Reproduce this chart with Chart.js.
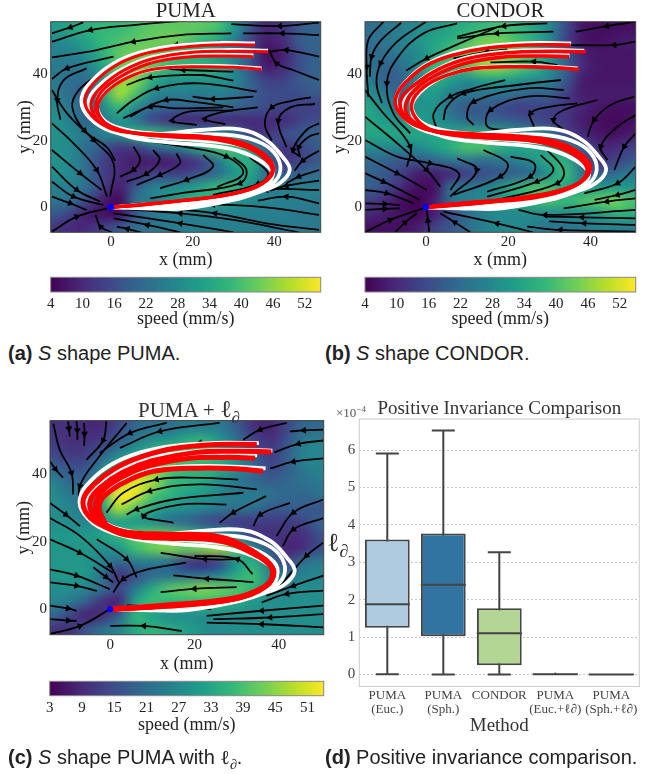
<!DOCTYPE html>
<html>
<head>
<meta charset="utf-8">
<script src="https://cdn.jsdelivr.net/npm/chart.js@4"></script>
<style>
  html, body { margin: 0; padding: 0; background: #fff; }
  #page { position: relative; width: 665px; height: 774px; overflow: hidden; }
  canvas { position: absolute; }
  .txt { position: absolute; white-space: nowrap; font-family: "Liberation Serif", serif; color: #222; }
  .cap { font: 20px/22px "Liberation Sans", sans-serif; color: #222; }
  .cap sub, .ttl sub, .lab sub { font-size: 70%; line-height: 0; }
</style>
</head>
<body>
<div id="page">
  <canvas id="fieldA"></canvas><canvas id="fieldB"></canvas><canvas id="fieldC"></canvas>
  <canvas id="barA"></canvas><canvas id="barB"></canvas><canvas id="barC"></canvas>
  <canvas id="boxes"></canvas>
  <div class="txt ttl" style="left:138px;top:397px;font-size:21px;line-height:24px;color:#333">PUMA + <span style="font-size:24px">ℓ<sub>∂</sub></span></div>
  <div class="txt lab" style="left:327px;top:528px;font-size:26px;line-height:30px;color:#333">ℓ<sub>∂</sub></div>
  <div class="txt" style="left:336px;top:405px;font-size:13px;line-height:16px;color:#555">×10<sup style="font-size:9px;line-height:0">−4</sup></div>
  <div class="txt cap" style="left:8px;top:342px"><b>(a)</b> <i>S</i> shape PUMA.</div>
  <div class="txt cap" style="left:325px;top:342px"><b>(b)</b> <i>S</i> shape CONDOR.</div>
  <div class="txt cap" style="left:8px;top:746px"><b>(c)</b> <i>S</i> shape PUMA with <span style="font-family:'Liberation Serif',serif">ℓ<sub>∂</sub></span>.</div>
  <div class="txt cap" style="left:325px;top:746px"><b>(d)</b> Positive invariance comparison.</div>
</div>
<script>
// tick labels
const fieldTicksX = [0, 20, 40];
const fieldTicksY = [0, 20, 40];
const barTicksAB = [4, 10, 16, 22, 28, 34, 40, 46, 52];
const barTicksC = [3, 9, 15, 21, 27, 33, 39, 45, 51];
const boxTicks = [0, 1, 2, 3, 4, 5, 6];

// speed fields in mm/s, rows y = 54 .. -6 (step 4), cols x = -14 .. 50 (step 4)
const speedA = [
  [32,34,36,38,38,40,42,42,42,42,40,32,18,9,12,18,20],
  [28,30,34,38,40,42,43,44,42,38,34,26,15,8,10,18,20],
  [26,26,30,36,42,44,44,40,36,34,30,26,18,6,8,16,20],
  [25,24,26,34,42,44,42,38,38,38,36,28,18,8,10,16,20],
  [25,22,22,30,46,46,36,30,30,30,30,28,20,14,14,18,20],
  [26,22,20,32,48,40,28,26,26,24,26,24,20,16,16,16,18],
  [28,24,20,28,38,28,22,20,20,20,22,20,18,16,14,14,14],
  [30,26,20,24,30,24,16,12,10,10,10,10,10,10,10,14,16],
  [30,28,24,26,30,36,38,36,34,28,26,24,14,12,16,18,20],
  [30,28,22,18,12,14,20,24,28,36,40,40,30,20,12,14,18],
  [30,28,22,14,10,8,8,8,10,14,24,34,36,24,12,14,18],
  [30,28,22,14,10,10,14,14,14,18,22,30,34,22,18,20,22],
  [26,26,22,14,8,18,26,28,30,34,38,38,30,26,26,26,26],
  [24,22,16,8,5,22,26,30,34,36,34,32,28,27,26,26,25],
  [18,14,8,6,6,18,24,26,26,26,26,26,26,26,26,25,25],
  [12,10,10,14,18,22,24,25,26,26,26,26,26,25,25,25,24]
];
const speedB = [
  [22,24,26,28,30,34,36,38,40,38,34,28,16,7,6,6,6],
  [22,24,26,30,34,36,40,44,44,40,36,28,14,7,6,7,8],
  [22,22,26,28,34,40,44,46,46,44,38,30,20,9,7,7,7],
  [24,20,22,28,38,38,40,46,46,42,38,30,20,10,7,7,7],
  [26,20,20,28,36,32,28,32,32,30,28,26,18,8,7,7,7],
  [30,24,20,30,32,26,24,24,24,22,20,20,14,8,8,8,8],
  [34,28,26,30,30,22,18,18,16,14,14,14,12,9,7,6,6],
  [34,32,30,32,30,26,22,20,20,18,16,14,12,8,6,5,6],
  [34,34,34,34,34,34,36,36,34,32,28,24,14,10,7,6,8],
  [28,28,28,28,32,36,40,40,36,34,34,30,28,18,10,10,14],
  [22,20,18,18,20,24,24,22,24,26,30,36,36,22,12,14,18],
  [20,18,14,8,8,10,14,16,18,20,22,30,38,24,18,22,26],
  [20,16,10,6,6,22,24,26,30,36,40,40,34,30,32,32,30],
  [14,10,6,4,8,22,26,28,30,34,38,40,38,40,42,44,40],
  [10,8,6,5,8,16,22,26,28,28,28,28,28,30,32,36,36],
  [6,6,6,8,14,18,22,26,28,28,26,24,24,24,26,26,26]
];
const speedC = [
  [10,10,9,9,14,20,22,22,24,24,24,18,10,8,14,20,20],
  [12,10,10,12,18,24,28,30,34,36,30,22,14,10,16,24,26],
  [14,12,12,18,26,32,38,42,40,38,34,28,18,12,18,26,26],
  [20,16,16,26,36,42,44,40,36,36,34,28,20,14,18,24,26],
  [26,20,20,30,44,52,48,38,36,34,28,24,20,18,20,22,24],
  [28,24,22,36,54,52,40,36,32,30,26,24,24,22,20,20,22],
  [28,26,24,30,48,40,34,30,28,26,24,22,22,18,18,18,16],
  [28,28,26,30,32,30,28,22,20,16,14,12,12,12,12,14,20],
  [30,30,30,32,36,40,42,42,38,34,30,22,12,10,10,10,16],
  [30,30,30,28,30,38,42,44,42,44,46,40,28,16,8,10,16],
  [30,30,30,26,20,24,24,22,12,10,14,30,34,22,14,22,24],
  [30,30,30,22,10,16,20,22,22,22,26,34,38,26,22,26,26],
  [28,28,26,22,14,24,34,40,42,44,42,40,36,28,26,28,28],
  [26,24,18,10,8,32,38,36,36,36,36,34,30,28,28,28,28],
  [20,14,8,10,18,36,32,28,28,28,28,28,28,28,28,28,28],
  [10,10,16,22,26,34,36,34,32,28,28,28,28,28,28,28,28]
];

// demonstrations, same for all three panels (x,y pairs in mm)
const demos = [
  [35.3,49.2,25,49.3,15,48.4,7,46.4,0.4,43,-4.5,38.2,-7.2,33,-6.2,28.2,-1.5,23.6,6,21.4,14,22.2,22,23.2,31.6,23.4,38,20.2,42,15.2,43.8,11.2,41.3,7.2,36.5,4.7,30,2.2,18.5,-0.3,11,-0.4,0,0],
  [38.5,47,30,47.2,20,46.8,10,45,3,41.6,-2.5,37,-5.5,32,-4.5,27.5,-1,24,5,21,14,19.5,24,18.5,31,17,36.5,14,39.5,10.5,38.7,7.5,34,4.6,26,2.4,15,1,6,0.4,0,0],
  [34.9,45.6,28,45.8,18,45.6,9,43.4,2.5,40,-2.2,35,-3.5,30.5,-1.6,26,3,23.5,10,22.2,20,21.8,30,21.6,37,19.2,40.8,15,41.3,10,38.5,6.2,32,3,22,1,10,0.3,0,0],
  [36.9,41.7,26,42.4,16,42.2,8,40.8,2,37.8,-2.5,33,-3.4,28.6,-1,24.4,4,22.6,12,21,22,20,32,18.5,38,15,39.8,11,37.5,7,31,3.6,20,1.6,8,0.8,0,0]
];

// reproductions per panel
const redA = [
  [35.3,48.7,25,48.7,15.3,47.7,7.1,45.7,0.6,42.2,-4.3,37.2,-6.4,32.7,-5.5,28.7,-1.9,24.7,3.8,22.7,12,21.8,22,21.4,31,19.7,37,16.2,39.6,12.2,38.6,9,35.5,6,28,3.6,18.5,2.2,7,0.8,0,0],
  [38.5,46.7,30,46.8,20,46.5,10,44.5,3,41,-2,36.5,-4.8,32,-4.2,27.8,-0.8,24,5,22.3,14,21.3,24,20.8,33,18.7,38,15,39.8,11.5,38.4,8.2,34,5.3,26,3.2,15,1.6,6,0.5,0,0],
  [34.9,45.2,28,45.4,18,45,9,43,2,39,-2.5,34.5,-3.8,30,-2.5,26.5,1,23.8,7,22,16,21,26,20.2,34,17.5,38.5,13.5,39.4,10,37,7.2,30,4.2,20,2.4,9,1,0,0],
  [36.9,41.4,30,42,21.8,42.2,12,41.7,5.5,39.7,-0.2,35.7,-3.1,31.2,-2.7,27.2,0.6,23.7,7.1,22.2,15.3,21.7,23.4,21.2,31.6,19.7,37.3,16.2,39.8,12.2,38.9,9.2,35.7,6.2,28.3,3.7,18.5,2.2,7.1,0.7,0,0]
];
const redB = [
  [35.2,48.7,25,48.7,15,47.8,7,45.8,0.2,42.6,-4.5,38,-7.3,33,-6.8,29,-3.5,25.2,2,23,12,22,22,21.4,31,20,37,16.6,39.9,12.6,38.8,8.8,34.5,5.8,27,3.6,17,2,7,1,0,0],
  [38.9,46.7,30,46.8,20,46.4,10,44.6,3,41.4,-2.5,37,-6,32.5,-5.6,28.2,-2,24.4,4,22.4,14,21.4,24,20.8,33,18.6,38,15,39.6,11,37.8,7.8,33,5,25,3,15,1.6,6,0.6,0,0],
  [34.8,45.2,28,45.4,18,45,9,43,2,39.4,-2.8,35,-5,30.5,-3.8,26.6,0,23.6,6,21.8,16,20.8,26,20,34,17.2,38.6,13.4,39.2,9.8,36.6,6.8,30,4.2,20,2.4,9,1.2,0,0],
  [37.2,41.4,30,42,22,42.2,12,41.7,5,39.6,-0.6,36,-3.4,31.4,-2.6,27,1,23.4,8,21.6,16,20.8,24,20.2,32,18.4,37,15,39.2,11.4,37.6,7.6,33,4.8,26,2.8,16,1.6,7,0.6,0,0]
];
const redC = [
  [34.8,48.8,25,48.8,15,47.6,7,45,1,41.6,-3.8,37,-6.4,32.5,-5.4,28,-1.6,24.6,4,22.8,13.4,22.2,25.3,21.6,33,17.8,38,13,38.7,9.8,36.6,6.6,29.2,3.2,13.4,1.2,0,0],
  [38.3,46.6,30,46.8,20,46.4,10,44,3,40.6,-2,36.4,-4.8,32,-4,27.8,-0.6,24,5,22.4,14,21.6,25,21,33.4,17.4,38.2,12.6,38.6,9.4,36.4,6.4,29,3,13,1,0,0],
  [34.4,44.8,28,45,18,44.6,9,42.4,2.6,39,-2,34.8,-3.6,30.4,-2.4,26.6,1,23.8,7,22,14,21.2,25.3,20.6,34,16.4,38.7,11.8,38.2,8.6,35.8,6,29,2.8,13.4,0.8,0,0],
  [36.3,40.9,30,41.6,21,41.8,11,41,5,38.6,0,35,-2.5,31.5,-2,27.4,0.7,23.2,7,21.4,13.4,21,25,20.4,34,16.7,38.4,12.2,37.1,6.9,29.2,3,13.4,1,0,0]
];

// streamlines, x,y pairs in mm, listed in flow direction
const streamsA = [
  [-6.8,55.5,-10,54,-14.5,52.2],
  [18,56,5.5,54.7,-5,53.2,-14.5,49.7],
  [29.5,52.2,16.9,51.7,5.5,49.7,-3.5,47.2,-14.5,45],
  [0.6,45.2,-10.8,41.7,-14.5,38.5],
  [26.7,49.7,16,48.7,6,46],
  [51,55.4,41.4,54.4,29.5,55],
  [51,51.7,42,52.2,32.4,52.2],
  [51,45.2,43,47.2,39,46.7],
  [51,38.2,44.6,41.2,40.6,43.2,38.7,47.2],
  [30,40.7,17.7,41.2,12.8,41.7],
  [-6,41.7,-11.6,38.2,-13.2,32.2,-12.4,26.2],
  [-3,40,-8,35,-9.5,30,-6.5,23,-1,18,1,14],
  [30,38,21.8,39.7,9.6,39,3.8,36.7],
  [35.7,34.7,21.8,37.2,11.2,35.7,5.5,32.2,1.4,28.2],
  [34.9,33.2,25,32.5,20,33.2],
  [30,30,20,31.7,13.5,32.2,7,29,3,26.7],
  [27.5,30,15.3,29.7,9.6,30.2,4.7,27.2],
  [30,29,19,28.7,15,26,21,24.7],
  [36,30,27,28.5,23,26.5,28,25],
  [49,33,44.5,32,39.4,30,37.7,25,39.4,20],
  [50,31,44,30,41,26,43,18],
  [51,25.2,47.9,23.2,44.6,17.2,46.3,15.2],
  [51,22.2,48.5,21.2,46,18,46.4,15],
  [51,17,47,14,45,11],
  [9.6,19.7,17.7,18.2,28.3,15.2,32.4,10.2,26,6],
  [5.5,18.2,7.1,14.2,5.5,11.2,2.2,9.2],
  [10.3,17.2,11.9,14.2,8.6,10,3.8,7.7],
  [16,16.2,16.9,13.2,12,9.7,6.3,6.7],
  [22.6,15.7,25,12.2,18.5,8.2,12,5.7],
  [30,15,33.2,11.2,31.6,7.2,16.9,4.2,9.6,2.7],
  [34,15,38.5,10.2,36,7,25,3.7],
  [-14.5,35.2,-10.8,28.2,-4.3,20.2,0.6,13.2,-0.2,3.2],
  [-14.5,25.2,-9.2,19.2,-3.5,11.2,-1,3.2],
  [-14.5,17.2,-7.6,10.2,-2.3,5.2],
  [-14.5,12.2,-8.4,5.2,-2.7,1.7],
  [-14.5,7.7,-9.2,3.2,-1.9,0.7],
  [-14.5,3.2,-10,1.2,-6,-0.8],
  [-14.5,-7.3,-8.4,-2.8,-1,-0.3],
  [0.2,-7.5,-2.6,-5.8,-3.8,-2.3],
  [51,-2.3,38,0,25,0.8,13,-0.3],
  [51,5.2,38,5.2,30,2],
  [51,1.2,43,3.2,36,2],
  [51,-6.8,38,-4.8,25.5,-1.8,12.6,-0.3],
  [46,-7.5,30,-3.8,17,-1.8,0.6,-0.3],
  [30,-7.5,17,-4.8,0.6,-1.8],
  [17,-7.5,8.9,-5.3,0.6,-3.3],
  [7.3,-7.5,4,-6.5,1.4,-5.8],
  [51,11.2,46,9.2,43,7.2],
  [51,8,43,6.5,39,5]
];
const streamsB = [
  [-10.3,55.7,-14,50.2,-14.4,42.2,-14,33.2],
  [-6,55.4,-11,50,-13.2,45.2,-13.6,39.2],
  [0,55.7,-7,49.7,-11,43.2,-12,37.2,-10.7,31.2],
  [7.6,55.2,-0.6,52.2,-7,44.7,-9.5,37.2,-7.9,28.2,-3.8,22.2],
  [18,54.4,9.2,49.7,0.2,44.7,-4.8,41],
  [29.5,55.2,19,54.4,7.6,51.2],
  [31,52.7,17.3,52.2,7.6,50.7],
  [51,55.7,44,54.4,36.4,52.7],
  [51,49.7,45.8,48.7,35.2,48.7],
  [19.8,47.4,14.9,46.7,6.7,44.7],
  [32,42.7,26.3,43.7,15.7,43.5],
  [19.3,38.2,11.6,35.7,5.9,33.2,1.9,28.2,2.7,23.2],
  [32.8,38.2,22.2,36.7,9.2,34.2,5.1,30.2,4.3,26.2],
  [33.5,35.2,24.6,35.7,11.6,31.7,10,27.2,11.6,24.7],
  [35,32.7,24.6,33.2,15.7,29.2,15,24.2,20.6,23.2],
  [36.8,31.2,30.3,30.2,25.4,28.2,26.3,24.2],
  [41.7,32.2,33.5,29.2,31,26.2,33.5,23.2],
  [50.6,33.2,44.9,30.7,40.9,26.2,39.3,21.2],
  [51,27.7,46.6,24.2,42.5,18.2,44.1,14.2],
  [51,22.2,48.2,18.2,45.8,11.2],
  [-14.8,27.2,-7.9,20.2,0.2,11.2,3.5,6.2],
  [-14.8,35.2,-11,29.2,-3.8,18.2,-4.6,12.2],
  [-14.8,20.2,-7,15.2,1,13.2,8,10.2,6,5.2],
  [-14.8,15.2,-7,10.2,0.2,5.2],
  [-14.8,10.2,-10.3,7.7,-1.4,2.2],
  [-14.8,5.2,-9.5,4.2,-3,1.2],
  [-14.8,1.2,-10,1,-6.3,0.7],
  [-14.8,-0.8,-10,-0.5,-6.3,-0.3],
  [-14.8,-7.5,-8.7,-3.8,-0.6,-0.3],
  [-7.5,-7.5,-5,-4.5,-2.2,-1.8],
  [0.8,-7.5,0.5,-4,0.2,-0.8],
  [10.8,-7.5,7,-4.5,3.5,-1.8],
  [26,-7.5,17.3,-4.8,4.3,-1.3],
  [51,-0.8,29,-2.3,22.5,-0.8],
  [51,-3.3,38,-3,29,-2.8],
  [51,-5.3,38.5,-4.8,30,-4.2],
  [51,-7.3,32.7,-6.8,24.6,-5.8],
  [51,12.2,46.6,7.2,38.5,4.2],
  [51,5.2,46.6,3.7,41,2.2],
  [51,2.7,44,1.7,33.5,-0.3],
  [7.6,14.7,12.4,11.2,5.9,3.2],
  [14,17.2,19.8,13.2,18.1,9.2,6.7,3.7],
  [20.6,15.2,26.3,13.2,25.4,9.2,14.9,4.7],
  [27.9,15.7,31,11.2,27,7.7,14.9,3.2],
  [29.5,17.2,33.5,11.2,32,7.2,17.3,2.2]
];
const streamsC = [
  [-10,55.7,-9.8,53.5,-9.6,51.2],
  [-8,55.7,-7.8,53,-7.8,50.2],
  [-6.2,55.2,-6.1,52,-6.2,48.4],
  [-13.5,55,-12,47.3,-9.2,40.4,-8.8,34],
  [-14.3,43.8,-13,41.5,-11.2,39],
  [3.9,55.2,-3.2,44.3,-7.2,36.5,-7.2,29.6],
  [-0.9,55.7,-1.7,50,-5.6,44.3],
  [13.4,55.2,4.7,52.2,-2.5,46.3],
  [26,55.2,11.8,52.7,2.3,47.8],
  [27.6,49.3,21.3,49.3,11.8,47.3],
  [50.6,53.2,46,53,42.7,52.7],
  [41.9,55.2,35.6,53.2,31.6,50.2],
  [50.6,50,44.7,49,39,46.5],
  [50.6,44.7,43.5,43.7,38,41.7],
  [30.4,38.4,18.9,39,11,38.4,3.1,34.5,-0.9,28.6],
  [34.8,35.5,21.3,37,9.4,35,2.7,31],
  [31.6,34.5,15,32.5,6.3,29.6,3.9,28],
  [27.6,31,16.6,31,7.9,27.6,15,25.6],
  [37,33.5,29.2,28.6,26,25.6],
  [42.7,31.5,35.6,28,34,24.6],
  [50.6,32.5,43.5,28.6,39.5,21.7],
  [50.6,27,43.5,23.6,41,18.7],
  [50.6,19.7,46.6,15.8,40.3,6.9],
  [50.6,9.9,43.5,6.9,37.1,3.9],
  [-14.3,31.5,-10.5,28,-7.2,24.6],
  [-14.3,27,-7.2,21.7,0,12.8,2,8],
  [-14.3,20.7,-7.2,16.7,0.7,10.8],
  [-14.3,11.8,-8,9.9,-0.1,5.9],
  [-14.3,7.9,-8,6.9,-3.2,5.4],
  [-14.3,1,-10,0.2,-8,-0.5],
  [-14.3,-3,-10,-3.4,-8,-3.5],
  [-14.3,-7.4,-7.2,-5,0,0],
  [-3.2,20.7,3.9,14.8,6.3,9.4],
  [-4,12.4,-1,9.5,0.7,7.9],
  [18,13.8,8,11.5,3.1,8.9,0.7,4.9],
  [30.8,14.8,22.5,14.8,12,16.7],
  [33.8,10.4,30.2,14.8,20,15.8],
  [34,8,23,9,15,10],
  [30,6.5,20,6,12,5],
  [50.6,1,36,-0.5,22.9,-2],
  [50.6,-1.5,38,-2.5,24.5,-3],
  [50.6,-5.4,36,-4.5,22.9,-4],
  [17,-6.5,8,-5,0,-5],
  [50.6,5.5,42,4.5,36,2],
  [24,0,14,0.5,4,1.2]
];

// boxplot
const boxCats = [['PUMA','(Euc.)'],['PUMA','(Sph.)'],['CONDOR'],['PUMA','(Euc.+ℓ∂)'],['PUMA','(Sph.+ℓ∂)']];
const boxLow = [0.01, 0, 0, 0, 0];
const boxQ1 = [1.25, 1.02, 0.25, 0, 0];
const boxMed = [1.88, 2.40, 1.10, 0.01, 0];
const boxQ3 = [3.61, 3.77, 1.77, 0.03, 0.01];
const boxHigh = [5.91, 6.52, 3.27, 0.05, 0.01];
const boxColors = ['#afcbdf', '#3274a1', '#b3d593', '#e0a0a0', '#c04040'];

const viridis = ['#440154','#482878','#3e4989','#31688e','#26828e','#1f9e89','#35b779','#6ece58','#b5de2b','#fde725'];
const serif = '"Liberation Serif", serif';
const inkDark = '#000';

function hexRgb(h) { return [1, 3, 5].map(i => parseInt(h.substr(i, 2), 16)); }
function viridisAt(t) {
  t = Math.max(0, Math.min(1, t)) * (viridis.length - 1);
  const i = Math.min(Math.floor(t), viridis.length - 2);
  const a = hexRgb(viridis[i]), b = hexRgb(viridis[i + 1]);
  return a.map((v, k) => Math.round(v + (b[k] - v) * (t - i)));
}
function pairs(flat) {
  const out = [];
  for (let i = 0; i < flat.length; i += 2) out.push({ x: flat[i], y: flat[i + 1] });
  return out;
}
function setup(id, c) {
  const el = document.getElementById(id);
  el.width = c.w; el.height = c.h;
  el.style.left = c.l + 'px'; el.style.top = c.t + 'px';
  return el;
}

// smooth speed image under the lines, placed with the chart scales
const heatmap = {
  id: 'heatmap',
  beforeDatasetsDraw(chart, args, opts) {
    if (!opts.grid) return;
    const rows = opts.grid.length, cols = opts.grid[0].length;
    const off = document.createElement('canvas');
    off.width = cols; off.height = rows;
    const octx = off.getContext('2d');
    const img = octx.createImageData(cols, rows);
    opts.grid.forEach((row, j) => row.forEach((v, i) => {
      const c = viridisAt((v - opts.vmin) / (opts.vmax - opts.vmin));
      const p = (j * cols + i) * 4;
      img.data[p] = c[0]; img.data[p + 1] = c[1]; img.data[p + 2] = c[2]; img.data[p + 3] = 255;
    }));
    octx.putImageData(img, 0, 0);
    const { x, y } = chart.scales, a = chart.chartArea, ctx = chart.ctx;
    const x0 = x.getPixelForValue(-16), x1 = x.getPixelForValue(52);
    const y0 = y.getPixelForValue(56), y1 = y.getPixelForValue(-8);
    ctx.save();
    ctx.beginPath(); ctx.rect(a.left, a.top, a.right - a.left, a.bottom - a.top); ctx.clip();
    ctx.imageSmoothingEnabled = true; ctx.imageSmoothingQuality = 'high';
    ctx.drawImage(off, x0, y0, x1 - x0, y1 - y0);
    ctx.restore();
  }
};
const frame = {
  id: 'frame',
  afterDraw(chart, args, opts) {
    const a = chart.chartArea, ctx = chart.ctx;
    ctx.save();
    ctx.strokeStyle = opts.color || '#444'; ctx.lineWidth = opts.width || 1;
    ctx.strokeRect(a.left, a.top, a.right - a.left, a.bottom - a.top);
    ctx.restore();
  }
};

function fieldChart(id, c, plot, xr, yr, grid, range, streams, reds, redWidth, title) {
  const el = setup(id, c);
  const sets = [];
  sets.push({ data: [{ x: 0, y: 0 }], showLine: false, pointRadius: 3.2, pointBackgroundColor: '#0000ff', pointBorderWidth: 0, order: 0 });
  reds.forEach(r => sets.push({ data: pairs(r), showLine: true, borderColor: '#ff0000', borderWidth: redWidth, tension: 0.4, pointRadius: 0, order: 1 }));
  demos.forEach(d => sets.push({ data: pairs(d), showLine: true, borderColor: '#ffffff', borderWidth: 3.8, tension: 0.4, pointRadius: 0, order: 2 }));
  streams.forEach(s => {
    const pts = pairs(s), mid = Math.floor(pts.length / 2);
    sets.push({
      data: pts, showLine: true, borderColor: inkDark, borderWidth: 1.8, tension: 0.4, order: 3,
      pointStyle: 'triangle', pointBackgroundColor: inkDark, pointBorderWidth: 0,
      pointRadius: ctx => ctx.dataIndex === mid ? 4 : 0,
      pointRotation: ctx => {
        const { x, y } = ctx.chart.scales;
        const a = pts[Math.max(mid - 1, 0)], b = pts[Math.min(mid + 1, pts.length - 1)];
        const dx = x.getPixelForValue(b.x) - x.getPixelForValue(a.x);
        const dy = y.getPixelForValue(b.y) - y.getPixelForValue(a.y);
        return Math.atan2(dx, -dy) * 180 / Math.PI;
      }
    });
  });
  new Chart(el, {
    type: 'scatter',
    data: { datasets: sets },
    plugins: [heatmap, frame],
    options: {
      responsive: false, animation: false, events: [],
      layout: { padding: { top: title ? plot.t - c.t - 20.8 : plot.t - c.t, right: c.l + c.w - plot.r, left: 0, bottom: 0 } },
      plugins: {
        legend: { display: false }, tooltip: { enabled: false },
        title: { display: !!title, text: title, fullSize: false, color: '#222', font: { family: serif, size: 20.8, lineHeight: 1, weight: 'normal' }, padding: 0 },
        heatmap: { grid, vmin: range[0], vmax: range[1] },
        frame: { color: '#444' }
      },
      scales: {
        x: {
          type: 'linear', min: xr[0], max: xr[1],
          grid: { display: false, drawTicks: false }, border: { display: false },
          afterBuildTicks: s => { s.ticks = fieldTicksX.map(v => ({ value: v })); },
          afterFit: s => { s.height = c.t + c.h - plot.b; },
          ticks: { color: '#222', font: { family: serif, size: 15 }, maxRotation: 0, padding: 1 },
          title: { display: true, text: 'x (mm)', color: '#222', font: { family: serif, size: 18 }, padding: 0 }
        },
        y: {
          type: 'linear', min: yr[0], max: yr[1],
          grid: { display: false, drawTicks: false }, border: { display: false },
          afterBuildTicks: s => { s.ticks = fieldTicksY.map(v => ({ value: v })); },
          afterFit: s => { s.width = plot.l - c.l; },
          ticks: { color: '#222', font: { family: serif, size: 15 }, padding: 3 },
          title: { display: true, text: 'y (mm)', color: '#222', font: { family: serif, size: 18 }, padding: 0 }
        }
      }
    }
  });
}

function barChart(id, c, plot, range, ticks) {
  const el = setup(id, c);
  new Chart(el, {
    type: 'bar',
    data: {
      labels: ['speed'],
      datasets: [{
        data: [range], barPercentage: 1, categoryPercentage: 1, borderWidth: 0,
        backgroundColor: ctx => {
          const a = ctx.chart.chartArea;
          if (!a) return '#000';
          const g = ctx.chart.ctx.createLinearGradient(a.left, 0, a.right, 0);
          viridis.forEach((col, i) => g.addColorStop(i / (viridis.length - 1), col));
          return g;
        }
      }]
    },
    plugins: [frame],
    options: {
      indexAxis: 'y', responsive: false, animation: false, events: [],
      layout: { padding: { top: plot.t - c.t, left: plot.l - c.l, right: c.l + c.w - plot.r, bottom: 0 } },
      plugins: { legend: { display: false }, tooltip: { enabled: false }, frame: { color: '#888' } },
      scales: {
        y: { display: false, grid: { display: false } },
        x: {
          type: 'linear', min: range[0], max: range[1],
          grid: { display: false, drawOnChartArea: false, drawTicks: true, tickLength: 2, tickColor: '#333' }, border: { display: false },
          afterBuildTicks: s => { s.ticks = ticks.map(v => ({ value: v })); },
          afterFit: s => { s.height = c.t + c.h - plot.b; },
          ticks: { color: '#222', font: { family: serif, size: 15 }, maxRotation: 0, padding: 1, autoSkip: false },
          title: { display: true, text: 'speed (mm/s)', color: '#222', font: { family: serif, size: 18 }, padding: 0 }
        }
      }
    }
  });
}

fieldChart('fieldA', { l: 14, t: 0, w: 316, h: 271 }, { l: 50.7, t: 21.7, r: 320.7, b: 232.3 },
  [-14.8, 51.4], [-7.5, 55.7], speedA, [4, 55], streamsA, redA, 3, 'PUMA');
fieldChart('fieldB', { l: 329, t: 0, w: 316, h: 271 }, { l: 365, t: 21.7, r: 635.7, b: 232.3 },
  [-14.8, 51], [-7.5, 55.7], speedB, [4, 55], streamsB, redB, 3.6, 'CONDOR');
fieldChart('fieldC', { l: 13, t: 399.4, w: 317, h: 276.6 }, { l: 50, t: 421, r: 323.7, b: 635.7 },
  [-14.3, 50.7], [-7.6, 55.9], speedC, [3, 54], streamsC, redC, 5, null);

barChart('barA', { l: 30, t: 270, w: 300, h: 60 }, { l: 50.7, t: 277.3, r: 320.7, b: 292 }, [4, 55], barTicksAB);
barChart('barB', { l: 345, t: 270, w: 300, h: 60 }, { l: 365, t: 277.3, r: 635.7, b: 292 }, [4, 55], barTicksAB);
barChart('barC', { l: 30, t: 674, w: 300, h: 62 }, { l: 49.7, t: 681.3, r: 323.7, b: 695.7 }, [3, 54], barTicksC);

// box chart: floating bars for the boxes, whiskers and medians placed with the scales
const boxParts = {
  id: 'boxParts',
  beforeDatasetsDraw(chart) {
    const { x, y } = chart.scales, ctx = chart.ctx;
    ctx.save(); ctx.strokeStyle = '#444'; ctx.lineWidth = 2;
    boxCats.forEach((c, i) => {
      const px = x.getPixelForValue(i);
      ctx.beginPath();
      ctx.moveTo(px, y.getPixelForValue(boxLow[i])); ctx.lineTo(px, y.getPixelForValue(boxHigh[i]));
      [boxLow[i], boxHigh[i]].forEach(v => {
        if (i >= 3) return;
        ctx.moveTo(px - 11.5, y.getPixelForValue(v)); ctx.lineTo(px + 11.5, y.getPixelForValue(v));
      });
      ctx.stroke();
    });
    ctx.restore();
  },
  afterDatasetsDraw(chart) {
    const { x, y } = chart.scales, ctx = chart.ctx;
    ctx.save(); ctx.strokeStyle = '#444'; ctx.lineWidth = 2;
    boxCats.forEach((c, i) => {
      const px = x.getPixelForValue(i), w = 22.5;
      ctx.beginPath();
      ctx.moveTo(px - w, y.getPixelForValue(boxMed[i])); ctx.lineTo(px + w, y.getPixelForValue(boxMed[i]));
      ctx.stroke();
    });
    ctx.restore();
  }
};
const boxCanvas = { l: 325, t: 399.5, w: 330, h: 337 }, boxPlot = { l: 359.3, t: 418.4, r: 639.3, b: 686 };
new Chart(setup('boxes', boxCanvas), {
  type: 'bar',
  data: {
    labels: boxCats,
    datasets: [{
      data: boxQ1.map((v, i) => [v, boxQ3[i]]),
      backgroundColor: boxColors, borderColor: '#444', borderWidth: 2, borderSkipped: false,
      barPercentage: 0.8, categoryPercentage: 1
    }]
  },
  plugins: [boxParts, frame],
  options: {
    responsive: false, animation: false, events: [],
    layout: { padding: { right: boxCanvas.l + boxCanvas.w - boxPlot.r, top: 0, left: 0, bottom: 0 } },
    plugins: {
      legend: { display: false }, tooltip: { enabled: false },
      title: { display: true, text: 'Positive Invariance Comparison', fullSize: false, color: '#333', font: { family: serif, size: 19, lineHeight: 1, weight: 'normal' }, padding: 0 },
      frame: { color: '#ccc', width: 1 }
    },
    scales: {
      x: {
        grid: { display: false, drawTicks: false }, border: { display: false },
        afterFit: s => { s.height = boxCanvas.t + boxCanvas.h - boxPlot.b; },
        ticks: { color: '#444', font: { family: serif, size: 13, lineHeight: 1.1 }, maxRotation: 0, autoSkip: false, padding: 2 },
        title: { display: true, text: 'Method', color: '#333', font: { family: serif, size: 19 }, padding: 0 }
      },
      y: {
        type: 'linear', min: -0.32, max: 6.83,
        grid: { color: '#c8c8c8', lineWidth: 1, drawTicks: false }, border: { display: false, dash: [2, 2] },
        afterBuildTicks: s => { s.ticks = boxTicks.map(v => ({ value: v })); },
        afterFit: s => { s.width = boxPlot.l - boxCanvas.l; },
        ticks: { color: '#444', font: { family: serif, size: 15 }, padding: 4 }
      }
    }
  }
});
</script>
</body>
</html>
